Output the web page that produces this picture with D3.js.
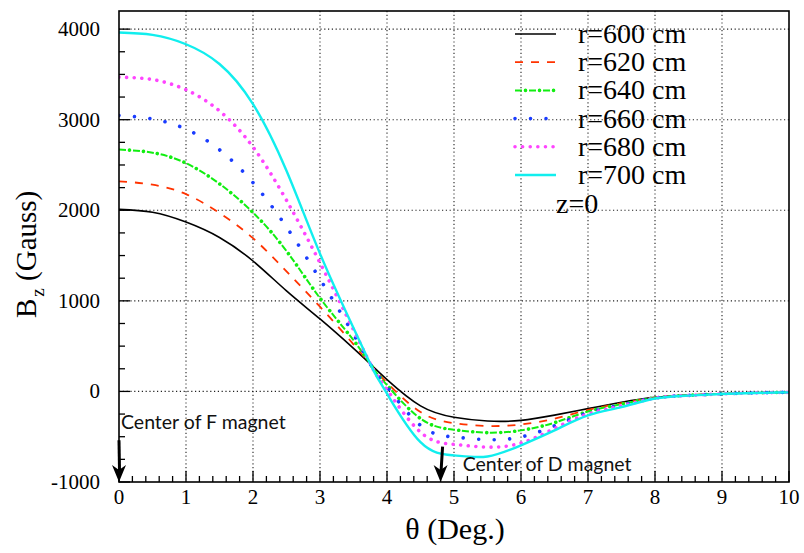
<!DOCTYPE html>
<html>
<head>
<meta charset="utf-8">
<script src="https://cdn.jsdelivr.net/npm/d3@7"></script>
<style>
  html, body { margin: 0; padding: 0; background: #fff; }
  svg { display: block; }
  .serif { font-family: "Liberation Serif", "Times New Roman", Times, "DejaVu Serif", serif; }
  .sans { font-family: Lato, "Open Sans", "DejaVu Sans", sans-serif; }
</style>
</head>
<body>
<svg id="chart" width="804" height="553"></svg>
<script>
// ---------------- data ----------------
const theta = [0, 0.5, 1, 1.5, 2, 2.5, 3, 3.5, 3.8, 4, 4.5, 5, 5.5, 6, 6.5, 7, 7.5, 8, 8.5, 9, 9.5, 10];
const r600 = [2010, 1978, 1870, 1700, 1440, 1110, 800, 475, 268, 130, -160, -285, -327, -320, -262, -190, -120, -65, -40, -25, -15, -10];
const r620 = [2320, 2283, 2178, 1970, 1692, 1325, 935, 520, 255, 95, -228, -350, -382, -365, -300, -205, -130, -68, -42, -26, -16, -10];
const r640 = [2670, 2636, 2520, 2292, 1975, 1550, 1030, 565, 248, 70, -300, -423, -455, -430, -345, -222, -140, -70, -43, -26, -16, -10];
const r660 = [3047, 3008, 2896, 2668, 2305, 1815, 1240, 630, 242, 50, -375, -503, -533, -503, -380, -235, -150, -72, -44, -27, -16, -10];
const r680 = [3470, 3443, 3330, 3097, 2698, 2110, 1420, 680, 236, 20, -450, -584, -615, -570, -410, -250, -160, -75, -45, -27, -16, -10];
const r700 = [3962, 3936, 3833, 3615, 3172, 2436, 1521, 700, 230, -25, -560, -706, -718, -595, -430, -265, -173, -78, -46, -28, -17, -10];

const seriesNames = ["r=600 cm", "r=620 cm", "r=640 cm", "r=660 cm", "r=680 cm", "r=700 cm"];
const seriesValues = [r600, r620, r640, r660, r680, r700];
const seriesColors = ["#000000", "#ff3300", "#11ee11", "#1a3cff", "#ff44ff", "#11eeee"];

const xTicks = [0, 1, 2, 3, 4, 5, 6, 7, 8, 9, 10];
const yTicks = [-1000, 0, 1000, 2000, 3000, 4000];
const xDomain = [0, 10];
const yDomain = [-1000, 4200];

const xTitle = "θ (Deg.)";
const yTitleMain = "B";
const yTitleSub = "z";
const yTitleRest = " (Gauss)";
const noteText = "z=0";
const annotations = [
  { text: "Center of F magnet", theta: 0, top: -540, textTheta: 0.03, textY: -410 },
  { text: "Center of D magnet", theta: 4.8, top: -610, textTheta: 5.13, textY: -875 }
];

// ---------------- layout ----------------
const svg = d3.select("#chart");
const L = 119, R = 789, T = 11, B = 482;
const x = d3.scaleLinear().domain(xDomain).range([L, R]);
const y = d3.scaleLinear().domain(yDomain).range([B, T]);

// grid
const grid = svg.append("g").attr("stroke", "#222").attr("stroke-width", 1.1).attr("stroke-dasharray", "1.2,2.6");
grid.selectAll("line.gx").data(xTicks.filter(t => t > xDomain[0] && t < xDomain[1])).join("line")
  .attr("x1", d => x(d)).attr("x2", d => x(d)).attr("y1", T).attr("y2", B);
grid.selectAll("line.gy").data(yTicks.filter(t => t > yDomain[0])).join("line")
  .attr("x1", L).attr("x2", R).attr("y1", d => y(d)).attr("y2", d => y(d));

// clip
svg.append("clipPath").attr("id", "clip").append("rect")
  .attr("x", L).attr("y", T).attr("width", R - L).attr("height", B - T);

// line styles
const styles = [
  { w: 1.6, dash: null, cap: "butt" },
  { w: 1.8, dash: "8,8", cap: "butt" },
  { w: 2.0, dash: "7,3.5,0.01,3.5", cap: "butt", dots: { w: 3.6, dash: "0.01,14.01", offset: -10.5 } },
  { w: 3.6, dash: "0.01,15.5", cap: "round" },
  { w: 3.6, dash: "0.01,7.6", cap: "round" },
  { w: 2.4, dash: null, cap: "butt" }
];

function applyStyle(sel, i) {
  const s = styles[i];
  sel.attr("fill", "none").attr("stroke", seriesColors[i]).attr("stroke-width", s.w)
    .attr("stroke-linecap", s.cap).attr("stroke-linejoin", "round");
  if (s.dash) sel.attr("stroke-dasharray", s.dash);
}
function applyDots(sel, i) {
  const s = styles[i].dots;
  sel.attr("fill", "none").attr("stroke", seriesColors[i]).attr("stroke-width", s.w)
    .attr("stroke-linecap", "round").attr("stroke-dasharray", s.dash)
    .attr("stroke-dashoffset", s.offset);
}

// curves
const line = d3.line().x(d => x(d[0])).y(d => y(d[1])).curve(d3.curveNatural);
const gCurves = svg.append("g").attr("clip-path", "url(#clip)");
seriesValues.forEach((vals, i) => {
  const pts = theta.map((t, j) => [t, vals[j]]);
  gCurves.append("path").datum(pts).attr("d", line).call(applyStyle, i);
  if (styles[i].dots) gCurves.append("path").datum(pts).attr("d", line).call(applyDots, i);
});

// axes ticks (inward)
const axG = svg.append("g").attr("stroke", "#000").attr("stroke-width", 1.3);
const xMinor = d3.range(0, 10.0001, 0.2);
axG.selectAll("line.xt").data(xMinor).join("line")
  .attr("x1", d => x(d)).attr("x2", d => x(d))
  .attr("y1", B).attr("y2", d => B - (Math.abs(d - Math.round(d)) < 1e-6 ? 11 : 6));
const yMinor = d3.range(-1000, 4200, 250);
axG.selectAll("line.yt").data(yMinor).join("line")
  .attr("y1", d => y(d)).attr("y2", d => y(d))
  .attr("x1", L).attr("x2", d => L + (d % 1000 === 0 ? 11 : 6));

// frame
svg.append("rect").attr("x", L).attr("y", T).attr("width", R - L).attr("height", B - T)
  .attr("fill", "none").attr("stroke", "#000").attr("stroke-width", 1.6);

// tick labels
svg.append("g").selectAll("text").data(xTicks).join("text")
  .attr("class", "serif")
  .attr("x", d => x(d)).attr("y", B + 22)
  .attr("text-anchor", "middle").attr("font-size", 21)
  .text(d => d);
svg.append("g").selectAll("text").data(yTicks).join("text")
  .attr("class", "serif")
  .attr("x", L - 19).attr("y", d => y(d) + 7)
  .attr("text-anchor", "end").attr("font-size", 21)
  .text(d => d);

// axis titles
svg.append("text").attr("class", "serif").attr("x", 455).attr("y", 539).attr("text-anchor", "middle")
  .attr("font-size", 30).text(xTitle);
const yt = svg.append("text").attr("class", "serif").attr("transform", "translate(36,318) rotate(-90)")
  .attr("font-size", 29);
yt.append("tspan").text(yTitleMain);
yt.append("tspan").attr("font-size", 19).attr("dy", 8).attr("dx", 2).text(yTitleSub);
yt.append("tspan").attr("dy", -8).text(yTitleRest);

// legend
const lg = svg.append("g");
seriesNames.forEach((name, i) => {
  const ly = 34 + i * 28.2;
  lg.append("line").attr("x1", 515).attr("x2", 556).attr("y1", ly).attr("y2", ly).call(applyStyle, i);
  if (styles[i].dots) lg.append("line").attr("x1", 515).attr("x2", 556).attr("y1", ly).attr("y2", ly).call(applyDots, i);
  lg.append("text").attr("class", "serif").attr("x", 578).attr("y", ly + 9)
    .attr("font-size", 28).text(name);
});
lg.append("text").attr("class", "serif").attr("x", 556).attr("y", 213)
  .attr("font-size", 28).text(noteText);

// annotations
annotations.forEach(a => {
  const xt = x(a.theta);
  const tipY = y(yDomain[0]);
  const topY = y(a.top);
  const dx = a.theta > 0 ? 2 : 0;
  svg.append("line").attr("x1", xt + dx).attr("y1", topY).attr("x2", xt + 0.5).attr("y2", tipY - 12)
    .attr("stroke", "#000").attr("stroke-width", 3);
  svg.append("path")
    .attr("d", `M${xt},${tipY} L${xt - 7},${tipY - 17} L${xt},${tipY - 12} L${xt + 7},${tipY - 17} Z`)
    .attr("fill", "#000");
  svg.append("text").attr("class", "sans").attr("x", x(a.textTheta)).attr("y", y(a.textY))
    .attr("font-size", 19.5).attr("fill", "#111").text(a.text);
});
</script>
</body>
</html>
